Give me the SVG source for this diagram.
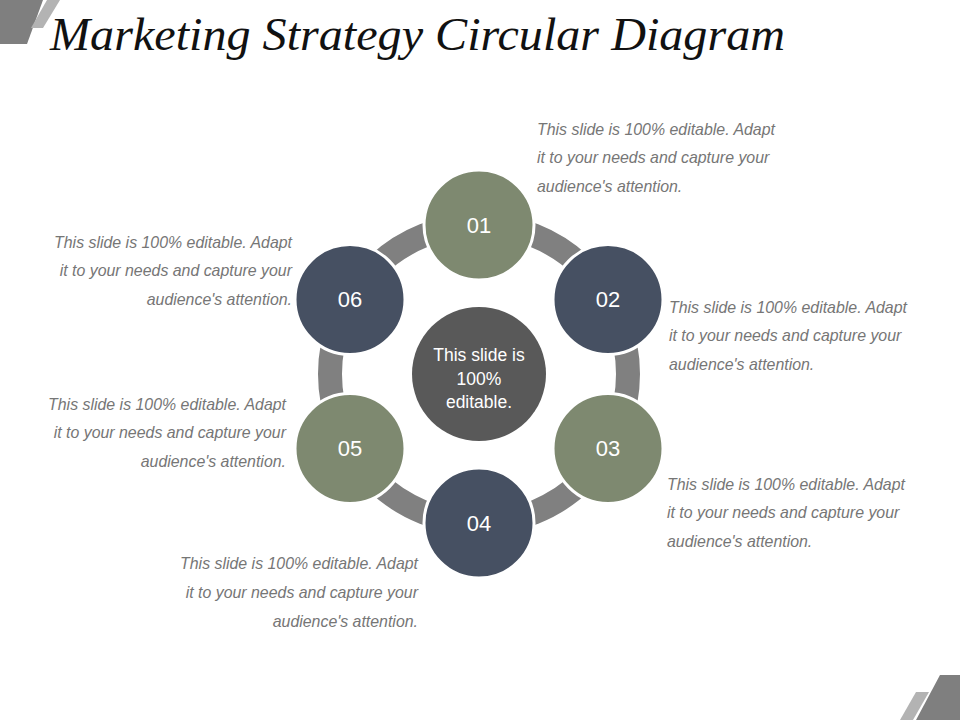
<svg xmlns="http://www.w3.org/2000/svg" width="960" height="720" viewBox="0 0 960 720">
<style>
.title{font-family:"Liberation Serif","Times New Roman",serif;font-style:italic;font-size:47px;fill:#111}
.desc{font-family:"Liberation Sans",Arial,sans-serif;font-style:italic;font-size:15.9px;fill:#767676}
.num{font-family:"Liberation Sans",Arial,sans-serif;font-size:22px;fill:#ffffff;text-anchor:middle}
.ctr{font-family:"Liberation Sans",Arial,sans-serif;font-size:17.5px;fill:#ffffff;text-anchor:middle}
.green{fill:#7e8970;stroke:#ffffff;stroke-width:3}
.navy{fill:#465062;stroke:#ffffff;stroke-width:3}
.r{text-anchor:end}
</style>
<rect width="960" height="720" fill="#ffffff"/>
<g id="decor">
<polygon points="0,0 43,0 27,44 0,44" fill="#7f7f7f"/>
<polygon points="47,0 60,0 43,28 31,28" fill="#b3b3b3"/>
<polygon points="940,675 960,675 960,720 916,720" fill="#7f7f7f"/>
<polygon points="916,692 929,692 913,720 900,720" fill="#b3b3b3"/>
</g>
<text class="title" x="50" y="50" textLength="735" lengthAdjust="spacingAndGlyphs">Marketing Strategy Circular Diagram</text>
<g id="connectors">
<circle cx="479" cy="374" r="149" fill="none" stroke="#808080" stroke-width="24"/>
</g>
<g id="center">
<circle cx="479" cy="374" r="67" fill="#595959"/>
<text class="ctr" x="479" y="361">This slide is</text>
<text class="ctr" x="479" y="385">100%</text>
<text class="ctr" x="479" y="408">editable.</text>
</g>
<g id="node01"><circle class="green" cx="479" cy="225" r="55"/><text class="num" x="479" y="233">01</text></g>
<g id="node02"><circle class="navy" cx="608" cy="299.5" r="55"/><text class="num" x="608" y="307">02</text></g>
<g id="node03"><circle class="green" cx="608" cy="448.5" r="55"/><text class="num" x="608" y="456">03</text></g>
<g id="node04"><circle class="navy" cx="479" cy="523" r="55"/><text class="num" x="479" y="531">04</text></g>
<g id="node05"><circle class="green" cx="350" cy="448.5" r="55"/><text class="num" x="350" y="456">05</text></g>
<g id="node06"><circle class="navy" cx="350" cy="299.5" r="55"/><text class="num" x="350" y="307">06</text></g>
<g id="text01" class="desc">
<text x="537" y="135">This slide is 100% editable. Adapt</text>
<text x="537" y="163">it to your needs and capture your</text>
<text x="537" y="192">audience's attention.</text>
</g>
<g id="text02" class="desc">
<text x="669" y="313">This slide is 100% editable. Adapt</text>
<text x="669" y="341">it to your needs and capture your</text>
<text x="669" y="370">audience's attention.</text>
</g>
<g id="text03" class="desc">
<text x="667" y="490">This slide is 100% editable. Adapt</text>
<text x="667" y="518">it to your needs and capture your</text>
<text x="667" y="547">audience's attention.</text>
</g>
<g id="text04" class="desc">
<text class="r" x="418" y="569">This slide is 100% editable. Adapt</text>
<text class="r" x="418" y="598">it to your needs and capture your</text>
<text class="r" x="418" y="627">audience's attention.</text>
</g>
<g id="text05" class="desc">
<text class="r" x="286" y="410">This slide is 100% editable. Adapt</text>
<text class="r" x="286" y="438">it to your needs and capture your</text>
<text class="r" x="286" y="467">audience's attention.</text>
</g>
<g id="text06" class="desc">
<text class="r" x="292" y="248">This slide is 100% editable. Adapt</text>
<text class="r" x="292" y="276">it to your needs and capture your</text>
<text class="r" x="292" y="305">audience's attention.</text>
</g>
</svg>
